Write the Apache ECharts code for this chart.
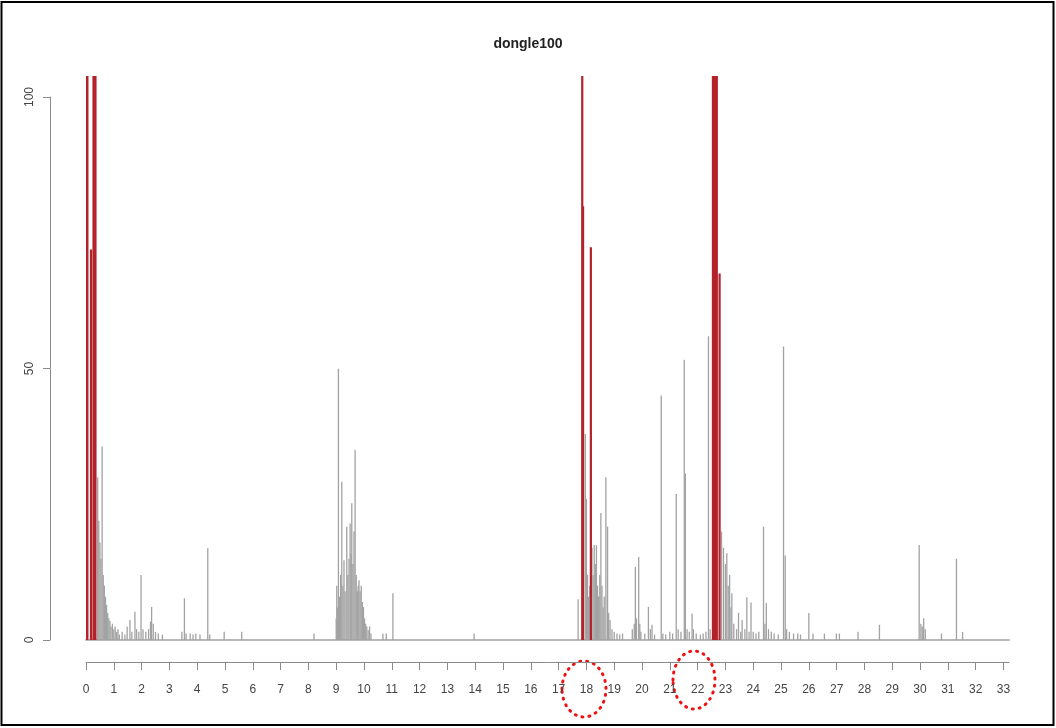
<!DOCTYPE html>
<html>
<head>
<meta charset="utf-8">
<script src="https://cdn.jsdelivr.net/npm/echarts@6/dist/echarts.min.js"></script>
<style>
html,body{margin:0;padding:0;background:#fff;}
#chart{width:1056px;height:728px;}
</style>
</head>
<body>
<div id="chart"></div>
<script>
// ---- data ----
const chartTitle = "dongle100";
const xTicks = [0,1,2,3,4,5,6,7,8,9,10,11,12,13,14,15,16,17,18,19,20,21,22,23,24,25,26,27,28,29,30,31,32,33];
const yTicks = [0, 50, 100];
const redThreshold = 60;
// spike positions (x) and heights (y); values above the plot top are clipped
const spikeX = [
  0.03,0.05,0.18,0.27,0.30,0.34,
  0.42,0.46,0.50,0.54,0.58,0.62,0.66,0.70,0.74,0.78,0.82,0.86,0.90,0.95,1.00,1.05,1.10,1.15,1.20,1.30,1.40,1.48,1.58,1.65,1.76,1.82,1.90,1.98,2.05,2.15,2.25,2.32,2.36,2.42,2.50,2.60,2.75,3.45,3.54,3.60,3.75,3.85,3.95,4.10,4.38,4.45,4.97,5.60,
  8.20,
  9.00,9.02,9.05,9.08,9.12,9.16,9.20,9.24,9.28,9.32,9.38,9.42,9.46,9.50,9.53,9.56,9.60,9.64,9.68,9.72,9.76,9.79,9.82,9.86,9.90,9.94,9.98,10.02,10.06,10.10,10.15,10.20,10.25,10.68,10.80,11.04,13.96,
  17.70,17.85,17.88,17.96,18.00,18.04,18.08,18.12,18.16,18.20,18.24,18.28,18.32,18.36,18.40,18.44,18.48,18.52,18.56,18.60,18.64,18.70,18.76,18.80,18.85,18.92,19.00,19.10,19.20,19.30,
  19.65,19.72,19.76,19.80,19.88,19.92,19.96,20.10,20.23,20.30,20.36,20.45,20.69,20.75,20.85,21.00,21.10,21.23,21.30,21.40,21.52,21.56,21.62,21.70,21.80,21.85,21.95,22.10,22.20,22.30,22.39,22.45,
  22.55,22.60,22.65,22.69,22.79,
  22.86,22.93,23.00,23.05,23.10,23.15,23.20,23.23,23.30,23.40,23.47,23.55,23.60,23.70,23.77,23.85,23.92,24.00,24.10,24.20,24.37,24.42,24.47,24.55,24.65,24.75,24.90,25.09,25.15,25.20,25.30,25.45,25.60,25.70,
  26.00,26.15,26.56,26.99,27.10,27.77,28.54,29.97,30.03,30.08,30.13,30.19,30.77,31.31,31.53
];
const spikeY = [
  150,150,72,150,150,150,
  30,22,18,15,35.7,12,10,8,6.5,5,4,3.5,2.5,3,2,2.5,1.5,2,1,1.5,1,2.5,3.7,1.5,5.2,2,1.5,12,2,1.5,2,3.4,6.1,3,1.5,1.2,1,1.5,7.7,1.2,1.2,1,1.2,1,16.9,1,1.5,1.5,
  1.2,
  4,10,6,50,8,12,29.2,10,14.7,9,20.9,12,15,21.5,16,25.2,14,20,35.1,12,9,10,11,9,10,7,6.1,4,3,2.5,1.8,2.5,1.2,1.2,1.2,8.6,1.2,
  7.5,150,80,38,26,12,8,10,72.4,17,12,17.5,14,17.5,10,8,12,23.4,10,6,8,30,20.9,5,3.7,2,1.5,1.2,1,1.2,
  2,3,13.5,4,15.3,3,1.5,1.2,6.1,2,2.8,1,45.1,1.2,1,1.5,1.2,26.9,2,1.5,51.7,30.7,2,1.5,4.9,2,1.2,1,1.2,1.5,56,2,
  150,150,150,150,67.6,
  20,17,14,16,10,12,6,8.6,3,2,5,1.5,3.7,2,7.9,1.5,6.9,1.5,1.2,1.5,20.9,3,6.8,2,1.5,1.2,1,54.1,15.6,2,1.5,1.2,1.2,1,
  5,1.2,1.2,1.2,1.2,1.5,2.8,17.5,3,2.5,4,2,1.2,15,1.5
];

const grayData = [], redData = [];
spikeX.forEach((x, i) => {
  const y = spikeY[i];
  (y > redThreshold ? redData : grayData).push([x, y]);
});

function spikeRenderer(width, color) {
  return function (params, api) {
    const x = api.value(0), y = api.value(1);
    const base = api.coord([x, 0]);
    const top = api.coord([x, y]);
    const cs = params.coordSys;
    const topY = Math.max(top[1], cs.y);
    return {
      type: 'rect',
      shape: { x: base[0] - width / 2, y: topY, width: width, height: base[1] - topY },
      style: { fill: color }
    };
  };
}

const FONT = "'Liberation Sans', Arial, sans-serif";
const chart = echarts.init(document.getElementById('chart'), null, { renderer: 'canvas' });
chart.setOption({
  animation: false,
  backgroundColor: '#ffffff',
  title: {
    text: chartTitle,
    left: 'center',
    top: 32,
    textStyle: { fontFamily: FONT, fontSize: 14, fontWeight: 'bold', color: '#222' }
  },
  grid: [
    { left: 86, right: 47, top: 76, bottom: 88 },   // spikes
    { left: 86, right: 47, top: 76, bottom: 66 },   // x axis below
    { left: 50, width: 20, top: 97, bottom: 88 }    // y axis
  ],
  xAxis: [
    { gridIndex: 0, type: 'value', min: 0, max: 33.2, show: true,
      axisLine: { show: true, onZero: false, lineStyle: { color: '#b8b8b8', width: 2 } },
      axisTick: { show: false }, axisLabel: { show: false }, splitLine: { show: false } },
    { gridIndex: 1, type: 'value', min: 0, max: 33.2, interval: 1,
      axisLine: { show: true, onZero: false, lineStyle: { color: '#8a8a8a', width: 1 } },
      axisTick: { show: true, length: 8, lineStyle: { color: '#8a8a8a' } },
      axisLabel: { show: true, margin: 22, fontFamily: FONT, fontSize: 12, color: '#444',
        showMaxLabel: false, formatter: v => (xTicks.indexOf(v) >= 0 ? String(v) : '') },
      splitLine: { show: false } },
    { gridIndex: 2, type: 'value', show: false, min: 0, max: 1 }
  ],
  yAxis: [
    { gridIndex: 0, type: 'value', min: 0, max: 104, show: false },
    { gridIndex: 1, type: 'value', min: 0, max: 1, show: false },
    { gridIndex: 2, type: 'value', min: 0, max: 100, interval: 50, position: 'left',
      axisLine: { show: true, lineStyle: { color: '#8a8a8a' } },
      axisTick: { show: true, length: 7, lineStyle: { color: '#8a8a8a' } },
      axisLabel: { show: true, rotate: 90, margin: 14, fontFamily: FONT, fontSize: 12, color: '#444',
        formatter: v => (yTicks.indexOf(v) >= 0 ? String(v) : '') },
      splitLine: { show: false } }
  ],
  series: [
    { type: 'custom', xAxisIndex: 0, yAxisIndex: 0, clip: true,
      renderItem: spikeRenderer(1.3, '#a2a2a2'), data: grayData },
    { type: 'custom', xAxisIndex: 0, yAxisIndex: 0, clip: true,
      renderItem: spikeRenderer(2.2, '#b3222a'), data: redData }
  ],
  graphic: [
    { type: 'rect', shape: { x: 1.5, y: 2, width: 1052, height: 723 },
      style: { fill: null, stroke: '#000', lineWidth: 2 } },
    { type: 'ellipse', shape: { cx: 584, cy: 689, rx: 22, ry: 28 },
      style: { fill: null, stroke: '#ee1111', lineWidth: 3, lineDash: [1, 6], lineCap: 'round' } },
    { type: 'ellipse', shape: { cx: 694, cy: 680, rx: 21, ry: 29 },
      style: { fill: null, stroke: '#ee1111', lineWidth: 3, lineDash: [1, 6], lineCap: 'round' } }
  ]
});
</script>
</body>
</html>
